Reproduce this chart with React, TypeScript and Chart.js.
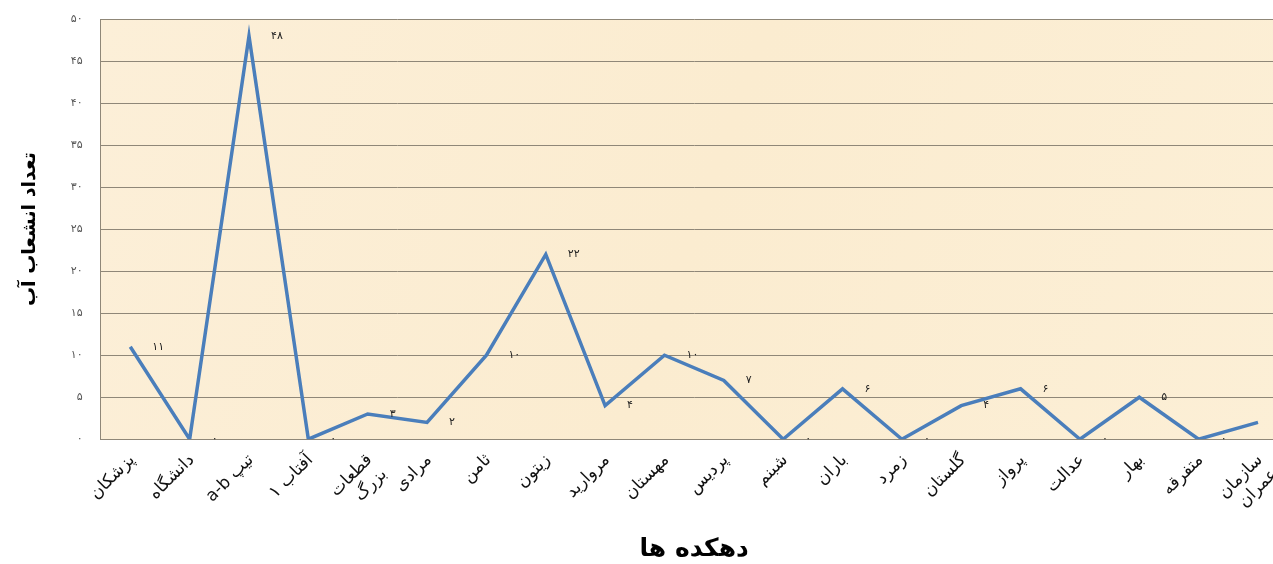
import Chart from 'chart.js/auto';
import { useEffect, useRef } from 'react'

// villages (x axis) and number of water connections
const villages: (string | string[])[] = [
  'پزشکان', 'دانشگاه', '\u202Bتیپ a-b\u202C', 'آفتاب ۱', ['قطعات', 'بزرگ'],
  'مرادی', 'ثامن', 'زیتون', 'مروارید', 'مهستان',
  'پردیس', 'شبنم', 'باران', 'زمرد', 'گلستان',
  'پرواز', 'عدالت', 'بهار', 'متفرقه', ['سازمان', 'عمران'],
]
const connections = [11, 0, 48, 0, 3, 2, 10, 22, 4, 10, 7, 0, 6, 0, 4, 6, 0, 5, 0, 2]

const yTitle = 'تعداد انشعاب آب'
const xTitle = 'دهکده ها'

const faDigits = '۰۱۲۳۴۵۶۷۸۹'
const toFa = (v: number | string) => String(v).replace(/\d/g, d => faDigits[+d])

const FONT = '"DejaVu Sans", sans-serif'

// paper coloured plot background
const plotBg = {
  id: 'plotBg',
  beforeDraw(chart: any) {
    const { ctx, chartArea: a } = chart
    ctx.save()
    const g = ctx.createLinearGradient(a.left, a.top, a.right, a.bottom)
    g.addColorStop(0, '#fcefd8')
    g.addColorStop(0.5, '#fbecd0')
    g.addColorStop(1, '#fcefd6')
    ctx.fillStyle = g
    ctx.fillRect(a.left, a.top, a.right - a.left, a.bottom - a.top)
    ctx.restore()
  },
}

// value labels to the right of each point
const valueLabels = {
  id: 'valueLabels',
  afterDatasetsDraw(chart: any) {
    const { ctx } = chart
    const meta = chart.getDatasetMeta(0)
    const data = chart.data.datasets[0].data
    ctx.save()
    ctx.font = `11px ${FONT}`
    ctx.fillStyle = '#222'
    ctx.textAlign = 'left'
    ctx.textBaseline = 'middle'
    meta.data.forEach((el: any, i: number) => {
      ctx.fillText(toFa(data[i]), el.x + 22, el.y)
    })
    ctx.restore()
  },
}

export default function App() {
  const chartRef = useRef<HTMLCanvasElement>(null)
  const chartInstanceRef = useRef<Chart | null>(null)

  useEffect(() => {
    document.body.style.margin = '0'
    if (chartRef.current) {
      chartInstanceRef.current?.destroy()
      chartInstanceRef.current = new Chart(chartRef.current, {
        type: 'line',
        data: {
          labels: villages,
          datasets: [
            {
              data: connections,
              borderColor: '#4a7ebb',
              borderWidth: 3.5,
              pointRadius: 0,
              tension: 0,
              fill: false,
            },
          ],
        },
        options: {
          animation: false,
          responsive: true,
          maintainAspectRatio: false,
          layout: { padding: { top: 19, right: 6, left: 0, bottom: 0 } },
          plugins: {
            legend: { display: false },
            tooltip: { enabled: false },
          },
          scales: {
            x: {
              offset: true,
              grid: { display: false, drawTicks: false },
              border: { color: '#8f8778', width: 1 },
              ticks: {
                autoSkip: false,
                maxRotation: 45,
                minRotation: 45,
                padding: 11,
                labelOffset: 2,
                color: '#111',
                font: { family: FONT, size: 17 },
              },
              title: {
                display: true,
                text: xTitle,
                color: '#000',
                font: { family: FONT, size: 25, weight: 'bold' },
                padding: { top: 2, bottom: 0 },
              },
            },
            y: {
              min: 0,
              max: 50,
              ticks: {
                stepSize: 5,
                padding: 18,
                color: '#555',
                // small line height so the label does not push the plot top down
                font: { family: FONT, size: 11, lineHeight: 0.2 },
                callback: (v: any) => toFa(v),
              },
              grid: { color: '#8f8778', lineWidth: 1, drawTicks: false },
              border: { color: '#8f8778', width: 1 },
              title: {
                display: true,
                text: yTitle,
                color: '#000',
                font: { family: FONT, size: 19, weight: 'bold' },
                padding: { top: 19, bottom: 11 },
              },
            },
          },
        },
        plugins: [plotBg, valueLabels],
      })
    }
    return () => {
      chartInstanceRef.current?.destroy()
    }
  }, [])

  // the plot runs past the right edge of the picture, as in the original
  return (
    <div style={{ width: 1273, height: 564, overflow: 'hidden', background: '#fff' }}>
      <div style={{ position: 'relative', width: 1298, height: 564 }}>
        <canvas ref={chartRef} />
      </div>
    </div>
  )
}
